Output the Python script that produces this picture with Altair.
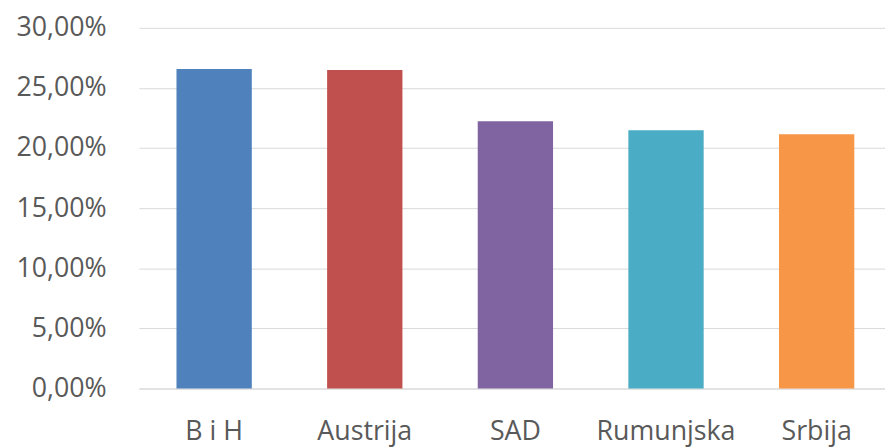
import altair as alt
import pandas as pd

countries = ["B i H", "Austrija", "SAD", "Rumunjska", "Srbija"]
values = [0.2658, 0.2650, 0.2222, 0.2148, 0.2115]
colors = ["#4F81BD", "#C0504D", "#8064A2", "#4BACC6", "#F79646"]

df = pd.DataFrame({"country": countries, "value": values})

chart = alt.Chart(df).mark_bar().encode(
    x=alt.X("country:N", sort=countries, title=None,
            scale=alt.Scale(paddingInner=0.5, paddingOuter=0.227, align=0.551),
            axis=alt.Axis(labelAngle=0, ticks=False, domain=True, domainColor="#d9d9d9",
                          labelFont="Open Sans", labelFontSize=27, labelColor="#595959",
                          labelPadding=30, grid=False)),
    y=alt.Y("value:Q", title=None,
            scale=alt.Scale(domain=[0, 0.30], nice=False),
            axis=alt.Axis(values=[0, 0.05, 0.10, 0.15, 0.20, 0.25, 0.30],
                          labelExpr="replace(format(datum.value*100, '.2f'), '.', ',') + '%'",
                          ticks=False, domain=False, gridColor="#d9d9d9",
                          labelFont="Open Sans", labelFontSize=27, labelColor="#595959",
                          labelPadding=33)),
    color=alt.Color("country:N", sort=countries,
                    scale=alt.Scale(domain=countries, range=colors), legend=None),
).properties(
    width=753, height=364,
    autosize=alt.AutoSizeParams(type="none"),
    padding={"left": 132, "top": 18, "right": 0, "bottom": 57},
).configure_view(stroke=None)

chart.save("out.html", embed_options={"renderer": "svg", "actions": False})
